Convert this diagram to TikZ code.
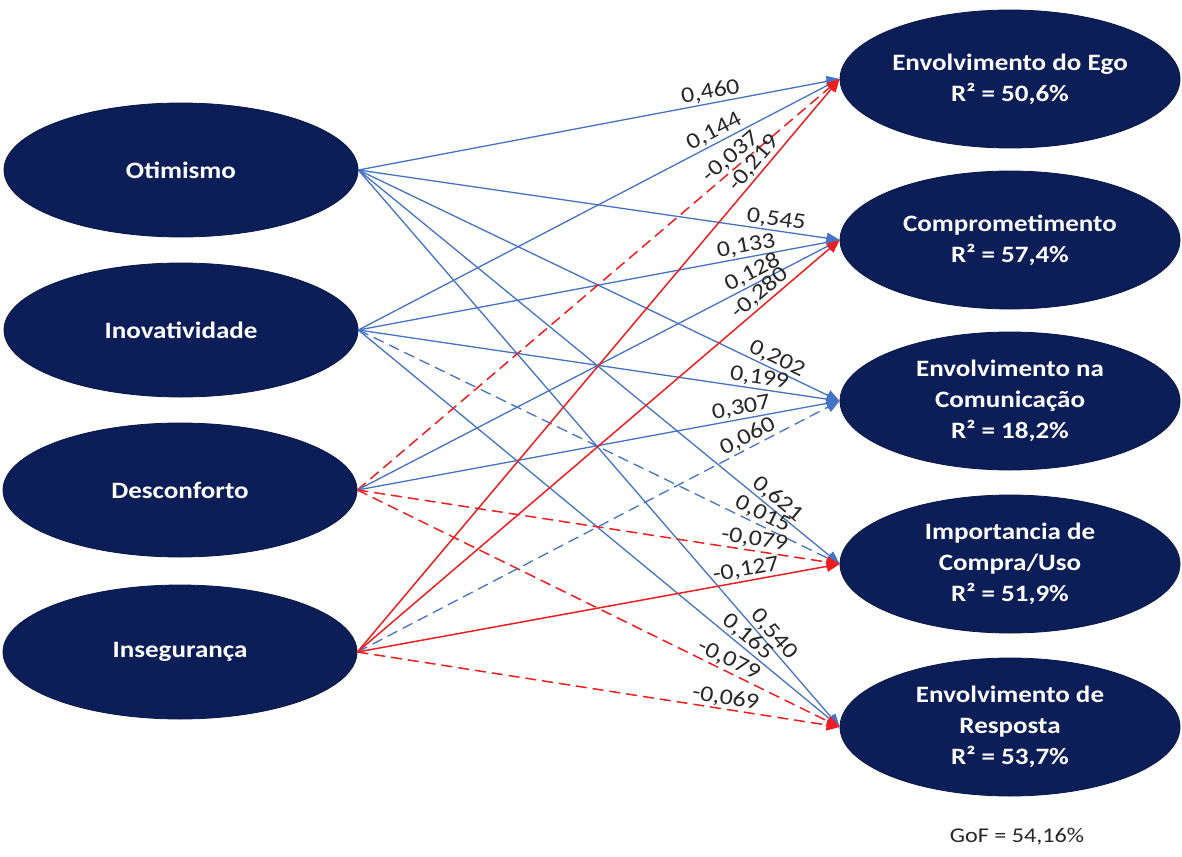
\documentclass[tikz,border=0pt]{standalone}
\usepackage{fontspec}
\setmainfont{Carlito}[FakeStretch=1.15]
\usetikzlibrary{arrows.meta,shapes.geometric}
\definecolor{navy}{RGB}{12,30,88}
\definecolor{lblue}{RGB}{68,114,196}
\definecolor{lred}{RGB}{238,30,30}
\begin{document}
\begin{tikzpicture}[x=1pt,y=-1pt,
  latent/.style={ellipse, fill=navy, draw=navy!80!black, line width=0.8pt, text=white,
    font=\fontsize{23.5}{31}\selectfont\bfseries, align=center, inner sep=0pt},
  srcnode/.style={latent, minimum width=354pt, minimum height=134pt},
  tgtnode/.style={latent, minimum width=340pt, minimum height=138pt},
  tipstyle/.style={-{Triangle[length=13pt,width=11pt]}},
  bsolid/.style={draw=lblue, line width=1.3pt, tipstyle},
  bdash/.style={bsolid, dash pattern=on 11pt off 6pt},
  rsolid/.style={draw=lred, line width=1.5pt, tipstyle},
  rdash/.style={rsolid, dash pattern=on 11pt off 6pt},
  lbl/.style={sloped, above, font=\fontsize{22.5}{22.5}\selectfont, inner sep=1.5pt, text=black!85},
  note/.style={font=\fontsize{21}{21}\selectfont, text=black!85, inner sep=0pt}
]
\useasboundingbox (0,0) rectangle (1182,856);

% latent variables (left)
\node[srcnode] (O) at (181,170) {Otimismo};
\node[srcnode] (I) at (181,330) {Inovatividade};
\node[srcnode] (D) at (180,490) {Desconforto};
\node[srcnode] (S) at (180,652) {Insegurança};

% latent variables (right)
\node[tgtnode] (E) at (1010,79)  {Envolvimento do Ego\\R² = 50,6\%};
\node[tgtnode] (C) at (1010,240) {Comprometimento\\R² = 57,4\%};
\node[tgtnode] (M) at (1010,401) {Envolvimento na\\Comunicação\\R² = 18,2\%};
\node[tgtnode] (P) at (1010,564) {Importancia de\\Compra/Uso\\R² = 51,9\%};
\node[tgtnode] (R) at (1010,727) {Envolvimento de\\Resposta\\R² = 53,7\%};

% Otimismo
\draw[bsolid] (O.east) -- node[lbl,pos=.736] {0,460} (E.west);
\draw[bsolid] (O.east) -- node[lbl,pos=.865] {0,545} (C.west);
\draw[bsolid] (O.east) -- node[lbl,pos=.86] {0,202} (M.west);
\draw[bsolid] (O.east) -- node[lbl,pos=.857] {0,621} (P.west);
\draw[bsolid] (O.east) -- node[lbl,pos=.846] {0,540} (R.west);

% Inovatividade
\draw[bsolid] (I.east) -- node[lbl,pos=.75] {0,144} (E.west);
\draw[bsolid] (I.east) -- node[lbl,pos=.81] {0,133} (C.west);
\draw[bsolid] (I.east) -- node[lbl,pos=.83] {0,199} (M.west);
\draw[bdash]  (I.east) -- node[lbl,pos=.83] {0,015} (P.west);
\draw[bsolid] (I.east) -- node[lbl,pos=.795] {0,165} (R.west);

% Desconforto
\draw[rdash]  (D.east) -- node[lbl,pos=.79] {-0,037} (E.west);
\draw[bsolid] (D.east) -- node[lbl,pos=.83] {0,128} (C.west);
\draw[bsolid] (D.east) -- node[lbl,pos=.80] {0,307} (M.west);
\draw[rdash]  (D.east) -- node[lbl,pos=.82] {-0,079} (P.west);
\draw[rdash]  (D.east) -- node[lbl,pos=.76] {-0,079} (R.west);

% Insegurança
\draw[rsolid] (S.east) -- node[lbl,pos=.84] {-0,219} (E.west);
\draw[rsolid] (S.east) -- node[lbl,pos=.85] {-0,280} (C.west);
\draw[bdash]  (S.east) -- node[lbl,pos=.82] {0,060} (M.west);
\draw[rsolid] (S.east) -- node[lbl,pos=.81] {-0,127} (P.west);
\draw[rdash]  (S.east) -- node[lbl,pos=.76] {-0,069} (R.west);

\node[note] (gof) at (1017,837) {GoF = 54,16\%};
\end{tikzpicture}
\end{document}
